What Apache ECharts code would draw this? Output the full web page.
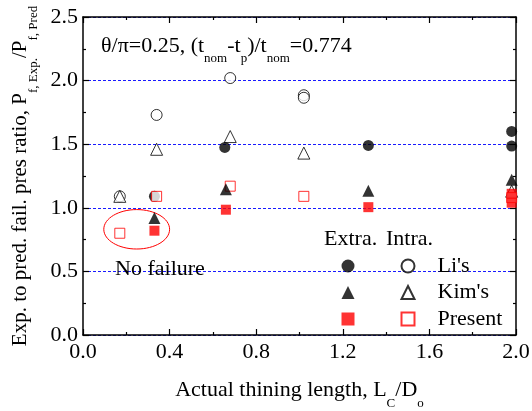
<!DOCTYPE html>
<html>
<head>
<meta charset="utf-8">
<script src="https://cdn.jsdelivr.net/npm/echarts@6/dist/echarts.min.js"></script>
<style>
  html, body { margin: 0; padding: 0; background: #fff; }
  #chart { width: 532px; height: 411px; }
</style>
</head>
<body>
<div id="chart"></div>
<script>
// Failure-pressure ratio vs. actual thinning length, theta/pi = 0.25
const FONT = '"Liberation Serif", "Times New Roman", serif';

// Axis ranges and tick steps
const xRange = [0, 2.0];
const xStep = 0.4;
const yRange = [0, 2.5];
const yStep = 0.5;

// Measured ratios [L_C/D_o, P_exp/P_pred]
const liExtra = [[0.33, 1.09], [0.655, 1.475], [1.318, 1.49], [1.98, 1.60], [1.98, 1.485]];
const liIntra = [[0.17, 1.09], [0.34, 1.73], [0.68, 2.02], [1.02, 1.885], [1.02, 1.865]];
const kimExtra = [[0.33, 0.92], [0.66, 1.145], [1.318, 1.135], [1.98, 1.22]];
const kimIntra = [[0.17, 1.09], [0.34, 1.46], [0.68, 1.56], [1.02, 1.43], [1.98, 1.13]];
const presentExtra = [[0.33, 0.82], [0.66, 0.985], [1.318, 1.005], [1.98, 1.11], [1.98, 1.04]];
const presentIntra = [[0.17, 0.80], [0.34, 1.09], [0.68, 1.17], [1.02, 1.09], [1.98, 1.08]];

// Region of specimens that did not fail: centre and radii in data units
const noFailCenter = [0.248, 0.831];
const noFailRadius = [0.152, 0.155];
const noFailLabel = 'No failure';
const noFailLabelPos = [0.148, 0.519];

const titleText = '\u03b8/\u03c0=0.25, (t{s|nom}-t{s|p})/t{s|nom}=0.774';
const xName = 'Actual thining length, L{s|C}/D{s|o}';
const yName = 'Exp. to pred. fail. pres ratio, P{s|f, Exp.}/P{s|f, Pred}';

const subRich = { s: { fontFamily: FONT, fontSize: 13, color: '#000', padding: [26, 0, 0, 0] } };

const chart = echarts.init(document.getElementById('chart'), null, { renderer: 'canvas' });

function valueAxis(range, step, opts) {
  return Object.assign({
    type: 'value',
    min: range[0], max: range[1], interval: step,
    axisLine: { show: true, onZero: false, lineStyle: { color: '#000', width: 1.5 } },
    axisTick: { show: true, inside: true, length: 6, lineStyle: { color: '#000', width: 1.2 } },
    minorTick: { show: true, splitNumber: 2, length: 3, lineStyle: { color: '#000', width: 1.2 } },
    splitLine: { show: false },
    axisLabel: { show: false }
  }, opts);
}

const symbolBase = (symbol, color, size, hollow) => ({
  type: 'scatter',
  symbol: symbol,
  symbolSize: size,
  itemStyle: hollow
    ? { color: '#fff', borderColor: color, borderWidth: 1 }
    : { color: color, borderWidth: 0 },
  emphasis: { disabled: true },
  z: 3
});

const series = [
  Object.assign(symbolBase('circle', '#000', 11, true), { name: "Li's", data: liIntra }),
  Object.assign(symbolBase('triangle', '#000', 12, true), { name: "Kim's", data: kimIntra }),
  Object.assign(symbolBase('circle', '#000', 11, false), { name: "Li's (Extra.)", data: liExtra }),
  Object.assign(symbolBase('rect', '#ff0000', 10, true), { name: 'Present', data: presentIntra }),
  Object.assign(symbolBase('triangle', '#000', 12, false), { name: "Kim's (Extra.)", data: kimExtra }),
  Object.assign(symbolBase('rect', '#ff0000', 10, false), { name: 'Present (Extra.)', data: presentExtra })
];

const option = {
  backgroundColor: '#fff',
  animation: false,
  textStyle: { fontFamily: FONT, color: '#000' },
  grid: { left: 83, right: 16, top: 17, bottom: 76, containLabel: false, outerBoundsMode: 'none' },
  xAxis: [
    valueAxis(xRange, xStep, {
      position: 'bottom',
      name: xName,
      nameLocation: 'middle',
      nameGap: 36,
      nameTextStyle: { fontFamily: FONT, fontSize: 22, color: '#000', rich: subRich },
      axisLabel: {
        show: true, margin: 6, color: '#000', fontFamily: FONT, fontSize: 22,
        formatter: v => v.toFixed(1)
      }
    }),
    valueAxis(xRange, xStep, { position: 'top' })
  ],
  yAxis: [
    valueAxis(yRange, yStep, {
      position: 'left',
      name: yName,
      nameLocation: 'middle',
      nameGap: 43,
      nameTextStyle: { fontFamily: FONT, fontSize: 21, color: '#000', rich: subRich },
      axisLabel: {
        show: true, margin: 5, color: '#000', fontFamily: FONT, fontSize: 22,
        formatter: v => v.toFixed(1)
      },
      splitLine: { show: true, lineStyle: { color: '#1a1aff', width: 1, type: [3, 2] } }
    }),
    valueAxis(yRange, yStep, { position: 'right' })
  ],
  legend: [
    {
      // Extra. column: symbols only
      data: ["Li's (Extra.)", "Kim's (Extra.)", 'Present (Extra.)'],
      orient: 'vertical',
      left: 341.5, top: 259.5,
      itemWidth: 13, itemHeight: 13, itemGap: 13.5,
      padding: 0,
      selectedMode: false,
      formatter: () => ''
    },
    {
      // Intra. column: symbols with names
      data: ["Li's", "Kim's", 'Present'],
      orient: 'vertical',
      left: 400.5, top: 253,
      itemWidth: 13, itemHeight: 13, itemGap: 0.5,
      padding: 0,
      selectedMode: false,
      textStyle: { fontFamily: FONT, fontSize: 22, color: '#000', lineHeight: 26, padding: [0, 0, 0, 18] }
    }
  ],
  series: series
};

chart.setOption(option);

// Overlay annotations anchored to data coordinates
const c = chart.convertToPixel({ xAxisIndex: 0, yAxisIndex: 0 }, noFailCenter);
const e = chart.convertToPixel({ xAxisIndex: 0, yAxisIndex: 0 },
  [noFailCenter[0] + noFailRadius[0], noFailCenter[1] + noFailRadius[1]]);
const lp = chart.convertToPixel({ xAxisIndex: 0, yAxisIndex: 0 }, noFailLabelPos);

chart.setOption({
  graphic: [
    {
      type: 'ellipse',
      shape: { cx: c[0], cy: c[1], rx: Math.abs(e[0] - c[0]), ry: Math.abs(c[1] - e[1]) },
      style: { fill: 'none', stroke: '#ff0000', lineWidth: 1 },
      z: 2
    },
    {
      type: 'text', x: lp[0], y: lp[1],
      style: { text: noFailLabel, font: '22px ' + FONT, fill: '#000', textVerticalAlign: 'middle' },
      z: 4
    },
    {
      type: 'text', x: 101, y: 46,
      style: {
        text: titleText, fontFamily: FONT, fontSize: 22, fill: '#000',
        verticalAlign: 'middle', rich: subRich
      },
      z: 4
    },
    {
      type: 'text', x: 324, y: 239,
      style: { text: 'Extra.', font: '22px ' + FONT, fill: '#000', textVerticalAlign: 'middle' },
      z: 4
    },
    {
      type: 'text', x: 386, y: 239,
      style: { text: 'Intra.', font: '22px ' + FONT, fill: '#000', textVerticalAlign: 'middle' },
      z: 4
    }
  ]
});
</script>
</body>
</html>
